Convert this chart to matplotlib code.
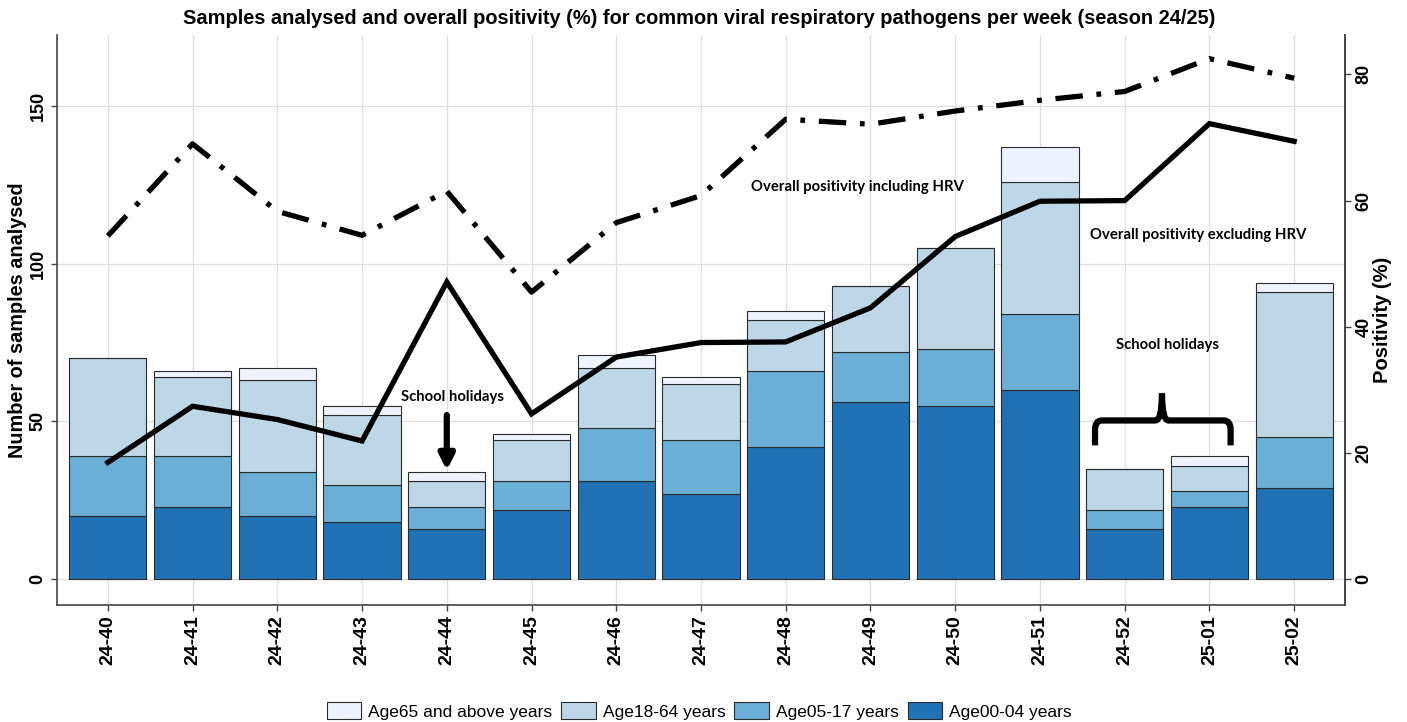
import matplotlib
matplotlib.use("Agg")
import matplotlib.pyplot as plt
import numpy as np
from matplotlib.patches import Patch
from matplotlib.path import Path
from matplotlib.patches import PathPatch

weeks = ["24-40", "24-41", "24-42", "24-43", "24-44", "24-45", "24-46", "24-47",
         "24-48", "24-49", "24-50", "24-51", "24-52", "25-01", "25-02"]
age_00_04 = [20, 23, 20, 18, 16, 22, 31, 27, 42, 56, 55, 60, 16, 23, 29]
age_05_17 = [19, 16, 14, 12, 7, 9, 17, 17, 24, 16, 18, 24, 6, 5, 16]
age_18_64 = [31, 25, 29, 22, 8, 13, 19, 18, 16, 21, 32, 42, 13, 8, 46]
age_65_up = [0, 2, 4, 3, 3, 2, 4, 2, 3, 0, 0, 11, 0, 3, 3]
pos_excl_hrv = [18.5, 27.4, 25.3, 21.9, 47.1, 26.2, 35.2, 37.5, 37.6, 43.0, 54.3, 59.9, 60.0, 72.2, 69.4]
pos_incl_hrv = [54.4, 69.0, 58.3, 54.5, 61.5, 45.5, 56.5, 60.8, 72.9, 72.1, 74.2, 75.9, 77.3, 82.5, 79.4]

series = [("Age00-04 years", age_00_04, "#2171b5"),
          ("Age05-17 years", age_05_17, "#6baed6"),
          ("Age18-64 years", age_18_64, "#bdd7e7"),
          ("Age65 and above years", age_65_up, "#eff3ff")]

bold_font = "Liberation Sans"
note_font = ["Lato", "DejaVu Sans"]

fig = plt.figure(figsize=(14.07, 7.22), dpi=100)
ax = fig.add_axes([57/1407, 117/722, (1345-57)/1407, (605-35)/722])
x = np.arange(len(weeks))

ax.set_axisbelow(True)
ax.grid(True, color="#dedede", lw=0.9)
bottom = np.zeros(len(weeks))
for name, vals, col in series:
    v = np.array(vals, dtype=float)
    ax.bar(x, v, width=0.91, bottom=bottom, color=col, edgecolor="#2b2b2b",
           linewidth=0.8, zorder=2)
    bottom += v

ax.set_xlim(-0.6, len(weeks) - 0.4)
ax.set_ylim(-8.2, 172.5)
ax.set_yticks([0, 50, 100, 150])
ax.set_xticks(x)
ax.set_xticklabels(weeks, rotation=90, fontsize=14, fontweight="bold", family=bold_font)
for lab in ax.get_yticklabels():
    lab.set_rotation(90)
    lab.set_va("center")
    lab.set_fontsize(13)
    lab.set_fontweight("bold")
    lab.set_family(bold_font)
ax.set_ylabel("Number of samples analysed", fontsize=14.3, fontweight="bold",
              family=bold_font)
ax.yaxis.set_label_coords(-0.0233, 0.5)
ax.spines["top"].set_visible(False)
for s in ["left", "bottom", "right"]:
    ax.spines[s].set_color("#444444")
    ax.spines[s].set_linewidth(1.2)
ax.tick_params(axis="both", length=4, color="#444444", width=1)

ax2 = ax.twinx()
ax2.set_ylim(-8.2 / 2, 172.5 / 2)
ax2.plot(x, pos_excl_hrv, color="black", lw=3.8, solid_joinstyle="miter", zorder=5)
ax2.plot(x, pos_incl_hrv, color="black", lw=3.8, linestyle=(0, (5.2, 2.6, 0.9, 2.6)),
         dash_capstyle="butt", zorder=5)
ax2.set_yticks([0, 20, 40, 60, 80])
for lab in ax2.get_yticklabels():
    lab.set_rotation(90)
    lab.set_va("center")
    lab.set_fontsize(13)
    lab.set_fontweight("bold")
    lab.set_family(bold_font)
ax2.set_ylabel("Positivity (%)", fontsize=14.5, fontweight="bold", family=bold_font)
ax2.yaxis.set_label_coords(1.0217, 0.5)
ax2.spines["top"].set_visible(False)
ax2.spines["right"].set_color("#444444")
ax2.spines["right"].set_linewidth(1.2)
ax2.spines["left"].set_visible(False)
ax2.spines["bottom"].set_visible(False)
ax2.tick_params(axis="y", length=4, color="#444444", width=1)

# annotations
ax.text(8.85, 124.4, "Overall positivity including HRV", ha="center", va="center",
        fontsize=10.7, fontweight="bold", family=note_font, zorder=6)
ax.text(12.87, 109.2, "Overall positivity excluding HRV", ha="center", va="center",
        fontsize=10.7, fontweight="bold", family=note_font, zorder=6)
ax.text(4.07, 57.6, "School holidays", ha="center", va="center",
        fontsize=10.7, fontweight="bold", family=note_font, zorder=6)
ax.text(12.5, 74.1, "School holidays", ha="center", va="center",
        fontsize=10.7, fontweight="bold", family=note_font, zorder=6)
ax.annotate("", xy=(4.0, 34.5), xytext=(4.0, 52.0),
            arrowprops=dict(arrowstyle="-|>,head_length=0.9,head_width=0.45",
                            color="black", lw=4.5, shrinkA=0, shrinkB=0), zorder=6)

# curly brace
xl, xr, xm = 11.65, 13.25, 12.44
yb, yh, yt = 42.4, 50.3, 58.9
r = 0.08
codes = [Path.MOVETO, Path.LINETO, Path.CURVE3, Path.CURVE3,
         Path.LINETO, Path.CURVE3, Path.CURVE3]
verts = [(xl, yb), (xl, yh - 3), (xl, yh), (xl + r, yh),
         (xm - r, yh), (xm, yh), (xm, yt)]
ax.add_patch(PathPatch(Path(verts, codes), fill=False, lw=4.5, color="black", zorder=6,
                       capstyle="butt"))
verts2 = [(xr, yb), (xr, yh - 3), (xr, yh), (xr - r, yh),
          (xm + r, yh), (xm, yh), (xm, yt)]
ax.add_patch(PathPatch(Path(verts2, codes), fill=False, lw=4.5, color="black", zorder=6,
                       capstyle="butt"))

fig.suptitle("Samples analysed and overall positivity (%) for common viral respiratory pathogens per week (season 24/25)",
             x=0.497, y=1 - 18/722, va="center", fontsize=14.4, fontweight="bold", family=bold_font)

handles = [Patch(facecolor=col, edgecolor="#2b2b2b", linewidth=0.8, label=name)
           for name, vals, col in reversed(series)]
fig.legend(handles=handles, loc="center", bbox_to_anchor=(0.497, 1 - 711/722), ncol=4,
           frameon=False, prop={"family": ["Liberation Sans Narrow", "Liberation Sans"], "size": 12.5},
           handlelength=2.0, handleheight=1.1, handletextpad=0.4, columnspacing=0.5)

fig.savefig("out.png", dpi=100)
